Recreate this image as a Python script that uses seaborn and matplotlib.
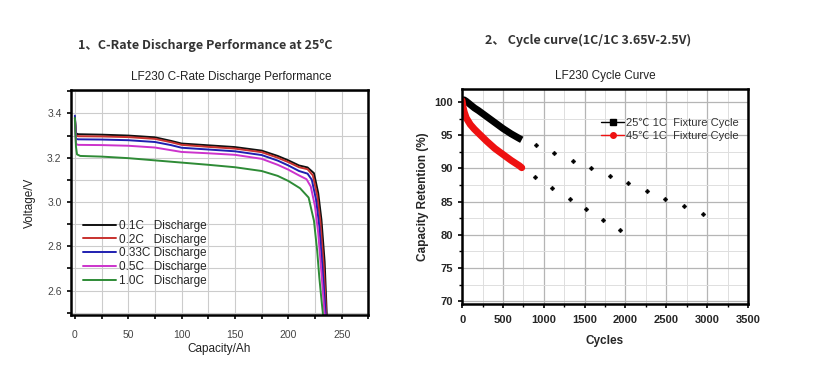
import matplotlib
matplotlib.use('Agg')
import matplotlib.pyplot as plt
from matplotlib.lines import Line2D
from matplotlib.ticker import MultipleLocator
import pandas as pd
import seaborn as sns

sns.set_style('white')
plt.rcParams['font.family'] = ['Liberation Sans', 'DejaVu Sans']

# ---- left chart: C-rate discharge curves (capacity Ah, voltage V) ----
cap_01 = [0, 1, 3, 25, 50, 75, 90, 100, 125, 150, 175, 190, 200, 210, 218, 224, 228, 231, 234, 236]
v_01 = [3.38, 3.31, 3.306, 3.304, 3.300, 3.292, 3.276, 3.264, 3.256, 3.248, 3.232, 3.208, 3.188, 3.165, 3.156, 3.130, 3.040, 2.920, 2.730, 2.490]
cap_02 = [0, 1, 3, 25, 50, 75, 90, 100, 125, 150, 175, 190, 200, 210, 218, 223, 227, 230, 233, 235.5]
v_02 = [3.38, 3.30, 3.297, 3.296, 3.293, 3.285, 3.270, 3.258, 3.249, 3.241, 3.225, 3.200, 3.180, 3.157, 3.148, 3.120, 3.030, 2.910, 2.720, 2.490]
cap_033 = [0, 1, 3, 25, 50, 75, 90, 100, 125, 150, 175, 190, 200, 210, 218, 222, 226, 229, 232, 235]
v_033 = [3.39, 3.285, 3.283, 3.282, 3.279, 3.271, 3.257, 3.245, 3.237, 3.229, 3.212, 3.187, 3.165, 3.140, 3.128, 3.100, 3.010, 2.890, 2.700, 2.490]
cap_05 = [0, 1, 3, 25, 50, 75, 90, 100, 125, 150, 175, 190, 200, 210, 217, 221, 225, 228, 231, 234]
v_05 = [3.37, 3.262, 3.258, 3.257, 3.254, 3.246, 3.234, 3.226, 3.220, 3.213, 3.195, 3.168, 3.146, 3.120, 3.103, 3.070, 2.980, 2.860, 2.680, 2.490]
cap_10 = [0, 1, 2, 5, 25, 50, 75, 100, 125, 150, 175, 190, 200, 211, 219, 224, 227, 229, 231, 232.5]
v_10 = [3.38, 3.25, 3.215, 3.208, 3.205, 3.198, 3.188, 3.178, 3.168, 3.157, 3.140, 3.118, 3.095, 3.062, 3.020, 2.915, 2.780, 2.660, 2.560, 2.490]

rate_labels = ['0.1C   Discharge', '0.2C   Discharge', '0.33C Discharge', '0.5C   Discharge', '1.0C   Discharge']
rate_colors = ['#111111', '#c8312e', '#1f1fb0', '#cc33cc', '#2e8b36']

# ---- right chart: cycle curves (cycles, capacity retention %) ----
cyc_25 = [0, 25, 50, 100, 150, 200, 300, 400, 500, 600, 700, 730]
ret_25 = [100.3, 100.3, 100.1, 99.6, 99.1, 98.7, 97.8, 96.9, 96.0, 95.2, 94.5, 94.3]
cyc_45 = [0, 10, 25, 50, 100, 150, 200, 300, 400, 500, 600, 700, 730]
ret_45 = [100.2, 99.3, 98.5, 97.6, 96.6, 95.9, 95.3, 94.1, 93.0, 92.1, 91.2, 90.4, 90.1]
# sparse projected points
cyc_25_pts = [900, 1125, 1355, 1580, 1810, 2035, 2260, 2490, 2720, 2945]
ret_25_pts = [93.45, 92.3, 91.15, 90.05, 88.9, 87.75, 86.6, 85.45, 84.35, 83.2]
cyc_45_pts = [695, 898, 1106, 1318, 1522, 1731, 1939]
ret_45_pts = [90.35, 88.7, 87.1, 85.45, 83.9, 82.3, 80.7]
cycle_labels = ['25℃ 1C  Fixture Cycle', '45℃ 1C  Fixture Cycle']

fig = plt.figure(figsize=(8.26, 3.71), dpi=100)

cjk = ['Noto Sans CJK SC', 'DejaVu Sans']
fig.text(0.249, 0.878, '1、C-Rate Discharge Performance at 25°C', ha='center', va='center',
         fontsize=9, fontweight='bold', family=cjk, color='#333333')
fig.text(0.712, 0.892, '2、 Cycle curve(1C/1C 3.65V-2.5V)', ha='center', va='center',
         fontsize=9, fontweight='bold', family=cjk, color='#333333')

# left axes
ax1 = fig.add_axes([0.0855, 0.151, 0.3605, 0.606])
curves = [(cap_01, v_01), (cap_02, v_02), (cap_033, v_033), (cap_05, v_05), (cap_10, v_10)]
for (c, v), lab, col in zip(curves, rate_labels, rate_colors):
    df_c = pd.DataFrame({'cap': c, 'volt': v})
    sns.lineplot(data=df_c, x='cap', y='volt', ax=ax1, color=col, lw=1.4, label=lab, sort=False)

ax1.set_xlim(-4, 275)
ax1.set_ylim(2.49, 3.505)
ax1.xaxis.set_major_locator(MultipleLocator(50))
ax1.xaxis.set_minor_locator(MultipleLocator(25))
ax1.yaxis.set_major_locator(MultipleLocator(0.2))
ax1.yaxis.set_minor_locator(MultipleLocator(0.1))
ax1.grid(True, which='both', color='#cccccc', lw=0.8)
ax1.set_axisbelow(True)
ax1.tick_params(which='both', direction='out', length=3, width=1.2, color='black',
                labelsize=7.5, labelcolor='#444444', bottom=True, left=True)
ax1.tick_params(axis='x', pad=8)
for s in ax1.spines.values():
    s.set_color('black')
    s.set_linewidth(1.8)
ax1.set_xlabel('Capacity/Ah', fontsize=8.5, labelpad=2, color='#222222')
ax1.set_ylabel('Voltage/V', fontsize=8.5, labelpad=8, color='#222222')
ax1.set_title('LF230 C-Rate Discharge Performance', fontsize=8.5, pad=7, color='#222222', x=0.54)
ax1.legend(loc='upper left', bbox_to_anchor=(0.015, 0.46), frameon=False, fontsize=8.5,
           handlelength=2.8, handletextpad=0.2, labelspacing=0.15, borderpad=0.2)

# right axes
ax2 = fig.add_axes([0.5595, 0.181, 0.346, 0.580])
df25 = pd.DataFrame({'cycles': cyc_25, 'ret': ret_25})
df45 = pd.DataFrame({'cycles': cyc_45, 'ret': ret_45})
sns.lineplot(data=df25, x='cycles', y='ret', ax=ax2, color='black', lw=5, solid_capstyle='butt')
sns.lineplot(data=df45, x='cycles', y='ret', ax=ax2, color='#ee1111', lw=5, solid_capstyle='round')
pts = pd.DataFrame({'cycles': cyc_25_pts + cyc_45_pts, 'ret': ret_25_pts + ret_45_pts})
sns.scatterplot(data=pts, x='cycles', y='ret', ax=ax2, color='black', s=6, marker='D',
                edgecolor='black', linewidth=0.3, legend=False)

ax2.set_xlim(0, 3500)
ax2.set_ylim(69.6, 102)
ax2.xaxis.set_major_locator(MultipleLocator(500))
ax2.xaxis.set_minor_locator(MultipleLocator(250))
ax2.yaxis.set_major_locator(MultipleLocator(5))
ax2.yaxis.set_minor_locator(MultipleLocator(2.5))
ax2.grid(True, which='major', color='#b5b5b5', lw=0.9)
ax2.grid(True, which='minor', color='#dedede', lw=0.7)
ax2.set_axisbelow(True)
ax2.tick_params(which='major', direction='out', length=3, width=1.2, color='black',
                labelsize=8, bottom=True, left=True)
ax2.tick_params(which='minor', direction='out', length=2, width=1, color='black', bottom=True, left=True)
ax2.tick_params(axis='x', pad=5)
for lab in ax2.get_xticklabels() + ax2.get_yticklabels():
    lab.set_fontweight('bold')
for s in ax2.spines.values():
    s.set_color('black')
    s.set_linewidth(1.8)
ax2.set_xlabel('Cycles', fontsize=8.5, fontweight='bold', labelpad=7)
ax2.set_ylabel('Capacity Retention (%)', fontsize=8.5, fontweight='bold', labelpad=4)
ax2.set_title('LF230 Cycle Curve', fontsize=8.5, pad=7, color='#222222')
handles = [Line2D([], [], color='black', lw=1.0, marker='s', markersize=4),
           Line2D([], [], color='#ee1111', lw=1.0, marker='o', markersize=4)]
ax2.legend(handles, cycle_labels, loc='upper left', bbox_to_anchor=(0.46, 0.9), frameon=False,
           handlelength=2.0, handletextpad=0.2, labelspacing=0.2, borderpad=0.2, numpoints=1,
           labelcolor='#333333', prop={'family': ['Liberation Sans', 'Noto Sans CJK SC'], 'size': 8})

fig.savefig('out.png', dpi=100)
